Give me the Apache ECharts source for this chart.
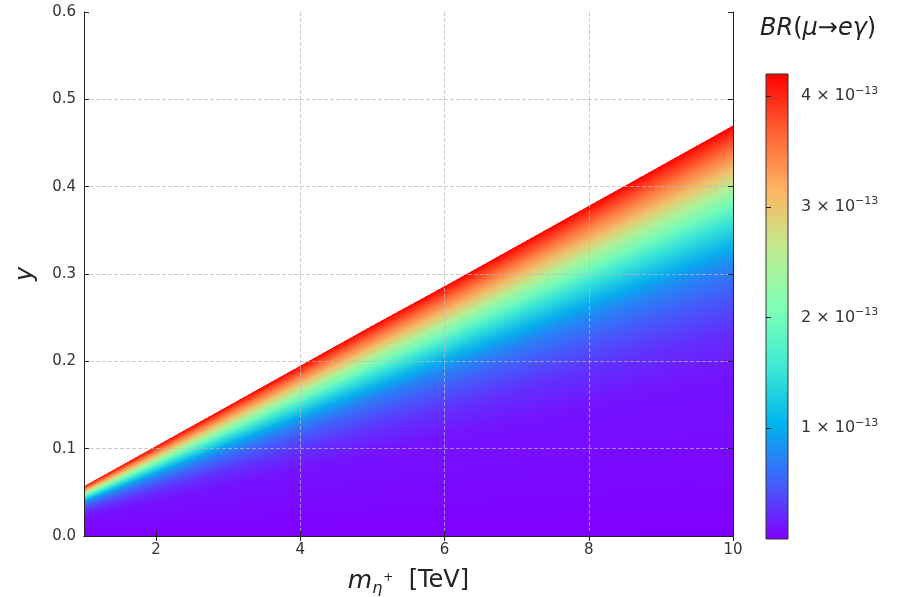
<!DOCTYPE html>
<html>
<head>
<meta charset="utf-8">
<script src="https://cdn.jsdelivr.net/npm/echarts@6/dist/echarts.min.js"></script>
<style>
html, body { margin: 0; padding: 0; background: #fff; }
#chart { width: 897px; height: 597px; }
</style>
</head>
<body>
<div id="chart"></div>
<script>
// masses (TeV) and upper edge of the coloured region read at each mass
var massTeV = [1, 2, 3, 4, 5, 6, 7, 8, 9, 10];
var yEdge = [0.057, 0.103, 0.149, 0.195, 0.241, 0.286, 0.332, 0.378, 0.424, 0.470];

// BR levels (x 1e-13) and where they sit as a fraction of the edge height (read at m = 10)
var brLevels = [0, 0.1, 0.25, 0.5, 0.75, 1.0, 1.5, 2.0, 2.5, 3.0, 3.5, 4.0, 4.2];
var edgeFrac = [0, 0.394, 0.50, 0.596, 0.66, 0.702, 0.766, 0.81, 0.851, 0.89, 0.936, 0.983, 1.0];

// axes / colour bar
var brMin = 0, brMax = 4.2;
var barTicks = [1, 2, 3, 4];
var xTicks = [2, 4, 6, 8, 10];

// matplotlib "rainbow", low -> high
var rainbow = ['#8000ff', '#4062fa', '#00b4ec', '#40ecd4', '#80ffb4', '#bfec8e', '#ffb462', '#ff6232', '#ff0000'];

var FONT = 'DejaVu Sans';
var INK = '#222';

// gradient of one column, top (offset 0) = edge, bottom = y 0
var fieldStops = [];
for (var k = brLevels.length - 1; k >= 0; k--) {
    fieldStops.push({
        offset: 1 - edgeFrac[k],
        color: echarts.color.lerp((brLevels[k] - brMin) / (brMax - brMin), rainbow)
    });
}
var barStops = rainbow.map(function (c, i) {
    return { offset: 1 - i / (rainbow.length - 1), color: c };
}).reverse();

// one item per mass interval
var segments = [];
for (var i = 0; i < massTeV.length - 1; i++) {
    segments.push([massTeV[i], yEdge[i], massTeV[i + 1], yEdge[i + 1]]);
}

// a segment is painted as 1px columns, each with its own vertical gradient
function renderField(params, api) {
    var a = api.coord([api.value(0), api.value(1)]);
    var b = api.coord([api.value(2), api.value(3)]);
    var base = Math.round(api.coord([api.value(0), 0])[1]);
    var x0 = Math.floor(a[0]), x1 = Math.floor(b[0]);
    if (params.dataIndex === params.dataInsideLength - 1) x1 = Math.ceil(b[0]);
    var kids = [];
    for (var x = x0; x < x1; x++) {
        var t = (x + 0.5 - a[0]) / (b[0] - a[0]);
        var top = a[1] + (b[1] - a[1]) * t;
        kids.push({
            type: 'rect',
            shape: { x: x, y: top, width: 1, height: base - top },
            style: { fill: new echarts.graphic.LinearGradient(0, 0, 0, 1, fieldStops) }
        });
    }
    return { type: 'group', children: kids };
}

function renderBar(params, api) {
    var lo = api.coord([0, api.value(0)]);
    var hi = api.coord([1, api.value(1)]);
    return {
        type: 'rect',
        shape: { x: lo[0], y: hi[1], width: hi[0] - lo[0], height: lo[1] - hi[1] },
        style: { fill: new echarts.graphic.LinearGradient(0, 0, 0, 1, barStops), stroke: '#333', lineWidth: 1 }
    };
}

var gridLine = { show: true, showMinLine: false, showMaxLine: false,
    lineStyle: { color: 'rgba(185,185,185,0.7)', type: [4, 2], width: 1 } };
var frame = { show: true, lineStyle: { color: INK, width: 1 } };
var inTick = { show: true, inside: true, length: 5, lineStyle: { color: INK } };
var tickFont = { fontFamily: FONT, fontSize: 15, color: '#333' };

var chart = echarts.init(document.getElementById('chart'));
chart.setOption({
    animation: false,
    backgroundColor: '#fff',
    title: {
        text: '{i|BR}{u|(}{i|μ}{u|→}{i|eγ}{u|)}',
        left: 755, top: 12,
        textStyle: {
            fontFamily: FONT, fontSize: 24, fontWeight: 'normal', color: INK,
            rich: { i: { fontStyle: 'italic', fontSize: 24 }, u: { fontSize: 24 } }
        }
    },
    grid: [
        { left: 84, top: 12, width: 649, height: 524, outerBoundsMode: 'none', containLabel: false },
        { left: 766, top: 74, width: 22, height: 465, outerBoundsMode: 'none', containLabel: false }
    ],
    xAxis: [
        {
            gridIndex: 0, type: 'value', min: 1, max: 10, position: 'bottom', z: 5,
            axisLine: frame,
            axisTick: Object.assign({ customValues: xTicks }, inTick),
            axisLabel: Object.assign({ customValues: xTicks, margin: 7 }, tickFont),
            splitLine: gridLine,
            name: '{m|m}{s|η}{p|+}{n|  [TeV]}',
            nameLocation: 'middle', nameGap: 29,
            nameTextStyle: {
                fontFamily: FONT, fontSize: 24, color: INK,
                rich: {
                    m: { fontSize: 25, fontStyle: 'italic', lineHeight: 32 },
                    s: { fontSize: 16, fontStyle: 'italic', lineHeight: 22, verticalAlign: 'bottom' },
                    p: { fontSize: 12, lineHeight: 32, verticalAlign: 'middle', padding: [0, 0, 6, 1] },
                    n: { fontSize: 24, lineHeight: 32 }
                }
            }
        },
        {
            gridIndex: 0, type: 'value', min: 1, max: 10, position: 'top', z: 5,
            axisLine: frame,
            axisTick: Object.assign({ customValues: xTicks }, inTick),
            axisLabel: { show: false }, splitLine: { show: false }
        },
        { gridIndex: 1, type: 'value', min: 0, max: 1, show: false }
    ],
    yAxis: [
        {
            gridIndex: 0, type: 'value', min: 0, max: 0.6, interval: 0.1, position: 'left', z: 5,
            axisLine: frame, axisTick: inTick,
            axisLabel: Object.assign({ margin: 8, formatter: function (v) { return v.toFixed(1); } }, tickFont),
            splitLine: gridLine,
            name: 'y', nameLocation: 'middle', nameGap: 46, nameRotate: 90,
            nameTextStyle: { fontFamily: FONT, fontSize: 24, fontStyle: 'italic', color: INK }
        },
        {
            gridIndex: 0, type: 'value', min: 0, max: 0.6, interval: 0.1, position: 'right', z: 5,
            axisLine: frame, axisTick: inTick,
            axisLabel: { show: false }, splitLine: { show: false }
        },
        {
            gridIndex: 1, type: 'value', min: brMin, max: brMax, position: 'right', z: 5,
            axisLine: { show: false },
            axisTick: { show: true, inside: false, length: 5, customValues: barTicks, lineStyle: { color: INK } },
            axisLabel: {
                customValues: barTicks, margin: 13,
                fontFamily: FONT, fontSize: 16, color: '#333',
                formatter: function (v) { return '{a|' + v + ' × 10}{e|−13}'; },
                rich: {
                    a: { fontSize: 16, lineHeight: 22 },
                    e: { fontSize: 11, lineHeight: 14, verticalAlign: 'top' }
                }
            },
            splitLine: { show: false }
        }
    ],
    series: [
        {
            type: 'custom', xAxisIndex: 0, yAxisIndex: 0, z: 2, clip: true,
            renderItem: renderField, data: segments
        },
        {
            type: 'custom', xAxisIndex: 2, yAxisIndex: 2, z: 2,
            renderItem: renderBar, data: [[brMin, brMax]]
        }
    ]
});
</script>
</body>
</html>
